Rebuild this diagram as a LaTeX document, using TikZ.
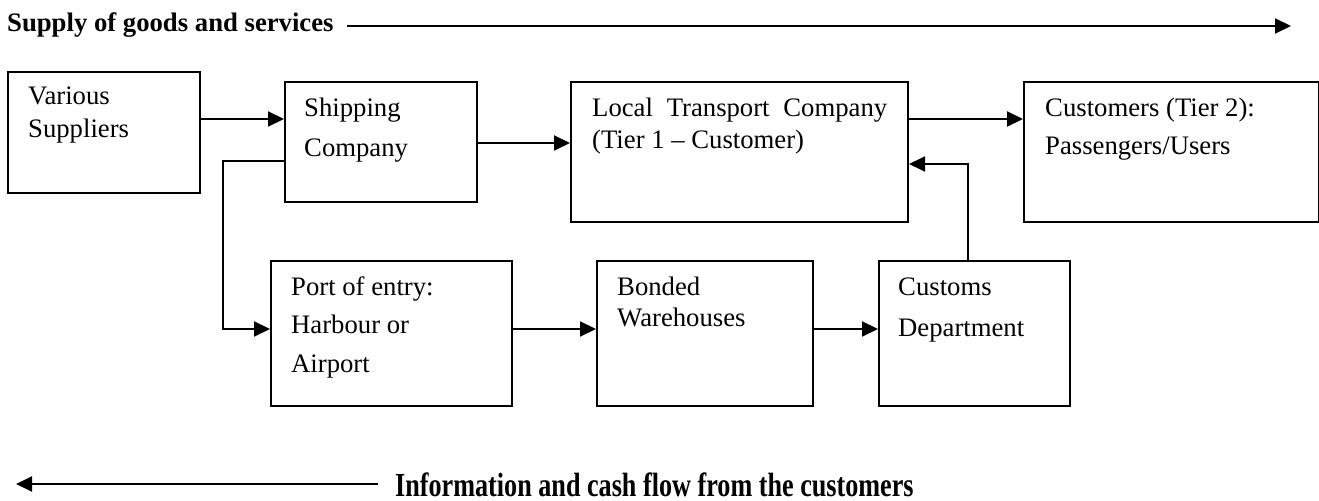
\documentclass[tikz,border=0pt]{standalone}
\usepackage{fontspec}
\setmainfont{Liberation Serif}
\usetikzlibrary{arrows.meta}
\begin{document}
\begin{tikzpicture}[x=1bp,y=-1bp,
  box/.style={draw, line width=2bp, anchor=north west, inner sep=0pt},
  lbl/.style={anchor=base west, inner sep=0pt, font=\fontsize{26.8}{30}\selectfont},
  head/.style={anchor=base west, inner sep=0pt, font=\bfseries\fontsize{26.8}{30}\selectfont},
  flow/.style={line width=2bp, -{Triangle[length=16bp,width=15bp]}},
]
\useasboundingbox (0,0) rectangle (1319,501);

% boxes of the supply chain
\node[box, minimum width=192bp, minimum height=121bp] (vs)    at (7,71)    {};
\node[box, minimum width=192bp, minimum height=120bp] (ship)  at (284,81)  {};
\node[box, minimum width=337bp, minimum height=140bp] (local) at (570,81)  {};
\node[box, minimum width=295bp, minimum height=140bp] (cust)  at (1023,81) {};
\node[box, minimum width=241bp, minimum height=145bp] (port)  at (270,260) {};
\node[box, minimum width=216bp, minimum height=145bp] (bond)  at (596,260) {};
\node[box, minimum width=191bp, minimum height=145bp] (cus)   at (878,260) {};

% box texts
\node[lbl] (vs1) at (28,105) {Various};
\node[lbl] (vs2) at (28,138) {Suppliers};
\node[lbl] (sh1) at (304,117) {Shipping};
\node[lbl] (sh2) at (304,157) {Company};
\node[lbl] (lo1) at (592,117) {\makebox[295bp][s]{Local Transport Company}};
\node[lbl] (lo2) at (592,149) {(Tier 1 – Customer)};
\node[lbl] (cu1) at (1045,117) {Customers (Tier 2):};
\node[lbl] (cu2) at (1045,155) {Passengers/Users};
\node[lbl] (po1) at (291,295) {Port of entry:};
\node[lbl] (po2) at (291,333) {Harbour or};
\node[lbl] (po3) at (291,372) {Airport};
\node[lbl] (bo1) at (617,295) {Bonded};
\node[lbl] (bo2) at (617,326) {Warehouses};
\node[lbl] (cs1) at (898,295) {Customs};
\node[lbl] (cs2) at (898,336) {Department};

% connectors
\draw[flow] (vs.east |- 0,119) -- (ship.west |- 0,119);
\draw[flow] (ship.east |- 0,143) -- (local.west |- 0,143);
\draw[flow] (local.east |- 0,119) -- (cust.west |- 0,119);
\draw[flow] (ship.west |- 0,161) -- (223,161) -- (223,329) -- (port.west |- 0,329);
\draw[flow] (port.east |- 0,329) -- (bond.west |- 0,329);
\draw[flow] (bond.east |- 0,329) -- (cus.west |- 0,329);
\draw[flow] (cus.north -| 968,0) -- (968,164) -- (local.east |- 0,164);

% flow directions
\node[head] (supply) at (7,32) {Supply of goods and services};
\coordinate (s0) at (347,26);
\coordinate (s1) at (1291,26);
\draw[flow] (s0) -- (s1);

\node[head] (info) at (395,496) {\scalebox{0.98}[1.26]{Information and cash flow from the customers}};
\coordinate (i0) at (378,484);
\coordinate (i1) at (16,484);
\draw[flow] (i0) -- (i1);
\end{tikzpicture}
\end{document}
